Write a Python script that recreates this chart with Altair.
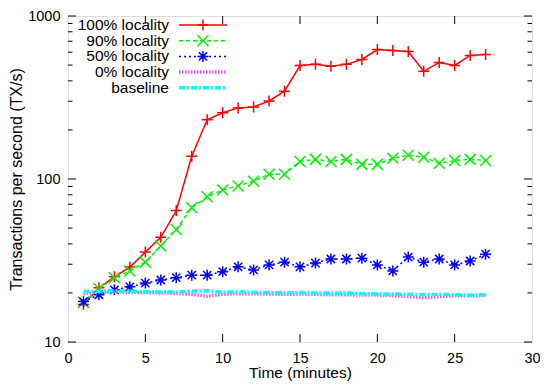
import altair as alt
import pandas as pd

minutes = list(range(1, 28))
loc100 = [17.0, 21.5, 25.1, 28.8, 35.6, 43.9, 64.0, 138, 231, 255, 273, 277, 301, 346,
          497, 505, 491, 505, 541, 622, 614, 605, 458, 519, 497, 573, 581]
loc90 = [17.5, 21.2, 24.8, 27.3, 30.9, 38.8, 49.0, 66.7, 77.8, 85.7, 90.7, 97.0, 107, 107,
         128, 132, 128, 132, 123, 123, 134, 140, 136, 125, 130, 132, 130]
loc50 = [17.7, 19.5, 20.9, 21.8, 23.0, 24.0, 24.8, 25.7, 25.7, 27.0, 28.9, 27.7, 29.7, 30.9,
         28.9, 30.5, 32.3, 32.3, 32.7, 29.7, 27.3, 33.2, 30.9, 32.3, 29.7, 31.4, 34.6]
loc0 = [19.8, 20.2, 20.3, 20.2, 20.1, 20.0, 19.9, 19.6, 19.1, 19.6, 19.8, 19.8, 19.7, 19.6,
        19.7, 19.6, 19.5, 19.5, 19.4, 19.4, 19.3, 19.0, 18.7, 19.0, 19.2, 19.2, 19.3]
baseline = [20.4, 20.5, 20.6, 20.5, 20.4, 20.3, 20.3, 20.5, 20.6, 20.2, 20.3, 20.2, 20.1, 20.0,
            20.1, 20.0, 19.9, 20.0, 19.8, 19.7, 19.7, 19.6, 19.5, 19.6, 19.5, 19.4, 19.5]

series_names = ["100% locality", "90% locality", "50% locality", "0% locality", "baseline"]
series_values = [loc100, loc90, loc50, loc0, baseline]

x_labels = [0, 5, 10, 15, 20, 25, 30]
x_inner_ticks = [5, 10, 15, 20, 25]
y_major = [10, 100, 1000]
y_minor = [20, 30, 40, 50, 60, 70, 80, 90, 200, 300, 400, 500, 600, 700, 800, 900]

# styles
PLUS = "M-1,0L1,0M0,-1L0,1"
CROSS = "M-1,-1L1,1M-1,1L1,-1"
STAR = "M-1,0L1,0M0,-1L0,1M-0.75,-0.75L0.75,0.75M-0.75,0.75L0.75,-0.75"
colors = ["#ff0000", "#00f000", "#0000ff", "#ee55ee", "#00ffff"]
dashes = [None, [4, 3], [2, 3], [1.5, 1.5], [6, 2, 2, 2]]
widths = [1.5, 1.5, 1.5, 3.5, 3.5]
shapes = [PLUS, CROSS, STAR, None, None]

W, H = 464, 326
FONT = "Liberation Sans"

xscale = alt.Scale(domain=[0, 30], nice=False, zero=False)
yscale = alt.Scale(type="log", domain=[10, 1000], nice=False)
xaxis = alt.Axis(values=x_labels, title="Time (minutes)", ticks=False, tickSize=0,
                 domain=False, grid=False, labelPadding=9, titlePadding=1,
                 labelFontSize=14.5, titleFontSize=15.5, labelFlush=False,
                 labelOverlap=False, labelFont=FONT, titleFont=FONT,
                 labelColor="black", titleColor="black", titleFontWeight="normal")
yaxis = alt.Axis(values=y_major, format="d", title="Transactions per second (TX/s)",
                 ticks=False, tickSize=0, domain=False, grid=False, labelPadding=8,
                 titlePadding=3, labelFontSize=14.5, titleFontSize=16, labelFlush=False,
                 labelOverlap=False, labelFont=FONT, titleFont=FONT,
                 labelColor="black", titleColor="black", titleFontWeight="normal")

X = lambda f: alt.X(f, scale=xscale, axis=xaxis)
Y = lambda f: alt.Y(f, scale=yscale, axis=yaxis)

layers = []

# inward tick marks
ymaj = pd.DataFrame({"v": y_major})
ymin = pd.DataFrame({"v": y_minor})
xt = pd.DataFrame({"v": x_inner_ticks})
for df, ln in [(ymaj, 8), (ymin, 4.5)]:
    layers.append(alt.Chart(df).mark_rule(color="black", strokeWidth=1).encode(
        y=Y("v:Q"), x=alt.value(0), x2=alt.value(ln)))
    layers.append(alt.Chart(df).mark_rule(color="black", strokeWidth=1).encode(
        y=Y("v:Q"), x=alt.value(W), x2=alt.value(W - ln)))
layers.append(alt.Chart(xt).mark_rule(color="black", strokeWidth=1).encode(
    x=X("v:Q"), y=alt.value(H), y2=alt.value(H - 8)))
layers.append(alt.Chart(xt).mark_rule(color="black", strokeWidth=1).encode(
    x=X("v:Q"), y=alt.value(0), y2=alt.value(8)))

# data series
for name, vals, col, dash, wd, shp in zip(series_names, series_values, colors, dashes, widths, shapes):
    df = pd.DataFrame({"minute": minutes, "tps": vals, "series": name})
    lkw = dict(color=col, strokeWidth=wd, clip=True)
    if dash:
        lkw["strokeDash"] = dash
    layers.append(alt.Chart(df).mark_line(**lkw).encode(x=X("minute:Q"), y=Y("tps:Q")))
    if shp:
        layers.append(alt.Chart(df).mark_point(shape=shp, filled=False, size=121, color=col,
                                               strokeWidth=1.5, opacity=1).encode(
            x=X("minute:Q"), y=Y("tps:Q")))

# legend (inside, top-left)
for i, (name, col, dash, wd, shp) in enumerate(zip(series_names, colors, dashes, widths, shapes)):
    ry = 9 + 15.7 * i
    ldf = pd.DataFrame({"label": [name]})
    layers.append(alt.Chart(ldf).mark_text(align="right", baseline="middle", font=FONT,
                                           fontSize=15.5, color="black").encode(
        text="label:N", x=alt.value(101), y=alt.value(ry)))
    rkw = dict(color=col, strokeWidth=wd)
    if dash:
        rkw["strokeDash"] = dash
    layers.append(alt.Chart(ldf).mark_rule(**rkw).encode(
        x=alt.value(111), x2=alt.value(159), y=alt.value(ry)))
    if shp:
        layers.append(alt.Chart(ldf).mark_point(shape=shp, filled=False, size=121, color=col,
                                                strokeWidth=1.5, opacity=1).encode(
            x=alt.value(135), y=alt.value(ry)))

chart = alt.layer(*layers).properties(
    width=W, height=H,
    padding={"left": 60, "top": 8, "right": 8, "bottom": 41},
    autosize=alt.AutoSizeParams(type="none"),
).configure_view(stroke="black", strokeWidth=1.2).configure(background="white")

chart.save("out.html", embed_options={"renderer": "svg", "actions": False})
